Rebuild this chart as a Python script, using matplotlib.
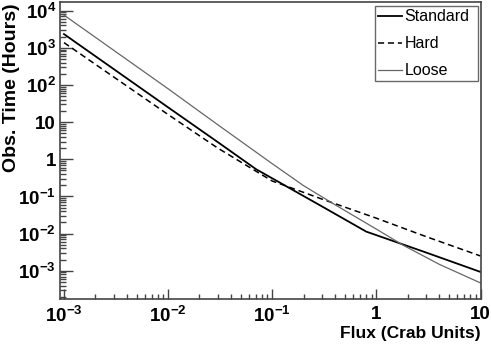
import matplotlib
matplotlib.use("Agg")
import matplotlib.pyplot as plt
from matplotlib.ticker import FixedLocator, FixedFormatter, LogLocator, NullFormatter

plt.rcParams['font.family'] = ['Liberation Sans', 'DejaVu Sans']
plt.rcParams['mathtext.fontset'] = 'custom'
plt.rcParams['mathtext.rm'] = 'Liberation Sans:bold'
plt.rcParams['mathtext.it'] = 'Liberation Sans:bold'
plt.rcParams['mathtext.bf'] = 'Liberation Sans:bold'

# Data (flux in Crab units, observation time in hours)
std_flux = [0.001, 0.01, 0.03, 0.07, 0.3, 0.8, 3, 10]
std_time = [2340, 25, 2.9, 0.54, 0.054, 0.0113, 0.0031, 0.00093]

hard_flux = [0.001, 0.01, 0.03, 0.1, 0.13, 0.3, 1, 3, 10]
hard_time = [1380, 16, 2.0, 0.26, 0.20, 0.085, 0.026, 0.0083, 0.0025]

loose_flux = [0.001, 0.01, 0.03, 0.1, 0.2, 0.4, 1, 1.8, 4, 10]
loose_time = [7600, 79, 8.5, 0.76, 0.195, 0.060, 0.0132, 0.0049, 0.0015, 0.00047]

x_ticks = [1e-3, 1e-2, 1e-1, 1, 10]
x_labels = [r'$10^{-3}$', r'$10^{-2}$', r'$10^{-1}$', '1', '10']
y_ticks = [1e-3, 1e-2, 1e-1, 1, 10, 1e2, 1e3, 1e4]
y_labels = [r'$10^{-3}$', r'$10^{-2}$', r'$10^{-1}$', '1', '10', r'$10^{2}$', r'$10^{3}$', r'$10^{4}$']

W, H = 491, 346
fig = plt.figure(figsize=(W/100, H/100), dpi=100)
ax = fig.add_axes([60/W, 1-299/H, 421/W, 297/H])

ax.plot(std_flux, std_time, color='black', lw=1.3, label='Standard')
ax.plot(hard_flux, hard_time, color='black', lw=1.1, linestyle=(0, (4, 2.5)), label='Hard')
ax.plot(loose_flux, loose_time, color='#666666', lw=0.9, label='Loose')

ax.set_xscale('log')
ax.set_yscale('log')
ax.set_xlim(9.16e-4, 10.1)
ax.set_ylim(1.74e-4, 1.71e4)

ax.xaxis.set_major_locator(FixedLocator(x_ticks))
ax.xaxis.set_major_formatter(FixedFormatter(x_labels))
ax.yaxis.set_major_locator(FixedLocator(y_ticks))
ax.yaxis.set_major_formatter(FixedFormatter(y_labels))
ax.xaxis.set_minor_locator(LogLocator(base=10, subs=range(2, 10), numticks=20))
ax.yaxis.set_minor_locator(LogLocator(base=10, subs=range(2, 10), numticks=20))
ax.xaxis.set_minor_formatter(NullFormatter())
ax.yaxis.set_minor_formatter(NullFormatter())

ax.tick_params(axis='both', which='both', direction='in', top=False, right=False, color='#444444')
ax.tick_params(axis='x', which='major', length=7, width=1, pad=5, labelsize=13.5)
ax.tick_params(axis='x', which='minor', length=3.5, width=1)
ax.tick_params(axis='y', which='major', length=9, width=1, pad=3, labelsize=13.5)
ax.tick_params(axis='y', which='minor', length=4.5, width=1)
for lab in ax.get_xticklabels() + ax.get_yticklabels():
    lab.set_fontweight('bold')

for sp in ax.spines.values():
    sp.set_color('#444444')
    sp.set_linewidth(1.2)

ax.set_xlabel('Flux (Crab Units)', fontsize=12.5, fontweight='bold', loc='right', labelpad=0)
fig.text(12/W, 1-3/H, 'Obs. Time (Hours)', rotation=90, ha='center', va='top',
         fontsize=14, fontweight='bold')

leg = ax.legend(loc='upper left', bbox_to_anchor=(375/W, 1-79/H, 103/W, 73/H),
                bbox_transform=fig.transFigure, mode='expand',
                fontsize=11.5, frameon=True, fancybox=False, handlelength=1.5, handletextpad=0.15,
                borderpad=0.2, labelspacing=0.75, borderaxespad=0)
leg.get_frame().set_edgecolor('#444444')
leg.get_frame().set_linewidth(1.0)

fig.savefig('out.png', dpi=100)
